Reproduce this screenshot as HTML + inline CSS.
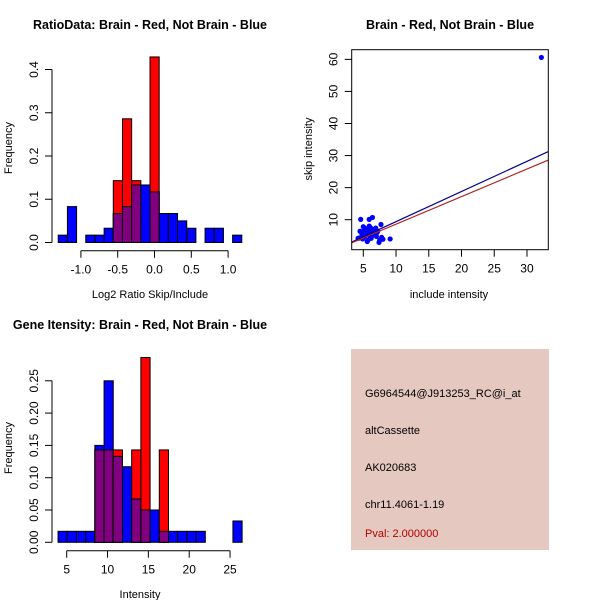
<!DOCTYPE html>
<html><head><meta charset="utf-8"><style>
html,body{margin:0;padding:0;background:#fff;}
svg{display:block;font-family:"Liberation Sans",Arial,sans-serif;}
</style></head><body>
<svg id="chart" width="600" height="600" viewBox="0 0 600 600" xmlns="http://www.w3.org/2000/svg"></svg>
<script>
// ---- Ratio histogram data ----
const ratioBinStart = -1.308;
const ratioBinWidth = 0.1247;
const ratioBlue = [0.017,0.083,0,0.017,0.017,0.033,0.067,0.083,0.133,0.133,0.117,0.067,0.067,0.05,0.033,0,0.033,0.033,0,0.017];
const ratioRed  = [0,0,0,0,0,0,0.143,0.286,0.143,0,0.429,0,0,0,0,0,0,0,0,0];
const ratioXTicks = [-1.0,-0.5,0.0,0.5,1.0];
const ratioXTickLabels = ["-1.0","-0.5","0.0","0.5","1.0"];
const ratioYTicks = [0,0.1,0.2,0.3,0.4];
const ratioYTickLabels = ["0.0","0.1","0.2","0.3","0.4"];
// ---- Intensity histogram data ----
const intBinStart = 3.94;
const intBinWidth = 1.127;
const intBlue = [0.017,0.017,0.017,0.017,0.15,0.25,0.133,0.117,0.067,0.05,0.05,0.017,0.017,0.017,0.017,0.017,0,0,0,0.033];
const intRed  = [0,0,0,0,0.143,0.143,0.143,0,0.143,0.286,0,0.143,0,0,0,0,0,0,0,0];
const intXTicks = [5,10,15,20,25];
const intXTickLabels = ["5","10","15","20","25"];
const intYTicks = [0,0.05,0.10,0.15,0.20,0.25];
const intYTickLabels = ["0.00","0.05","0.10","0.15","0.20","0.25"];
// ---- Scatter data ----
const scatX = [4.6,5.9,6.4,7.7,9.1,5.0,4.5,4.2,7.8,7.4,8.0,5.2,5.5,5.8,6.1,6.3,6.6,6.9,7.1,5.3,5.6,6.0,6.5,4.8,5.1,5.7,6.2,6.8,7.2,4.9,5.4,6.0,6.7,5.6,7.0,5.9,4.4,7.5,32.2];
const scatY = [10.1,10.1,10.7,8.5,4.0,7.8,6.4,4.2,4.5,2.9,3.9,6.8,6.2,7.2,7.5,6.6,7.0,7.4,6.0,5.0,5.4,5.8,5.2,5.5,4.6,3.6,4.2,5.6,6.4,4.0,7.2,4.9,6.9,3.2,4.8,8.0,4.3,3.6,60.6];
const scatXTicks = [5,10,15,20,25,30];
const scatYTicks = [10,20,30,40,50,60];
const fitRed = [0.0, 0.86];   // intercept, slope
const fitBlue = [0.0, 0.94];

const svg = document.getElementById('chart');
const NS = 'http://www.w3.org/2000/svg';
function mk(tag, attrs, parent){
  const e = document.createElementNS(NS, tag);
  for (const k in attrs) e.setAttribute(k, attrs[k]);
  (parent||svg).appendChild(e);
  return e;
}
function txt(s, x, y, opts, parent){
  const e = mk('text', Object.assign({x:x,y:y,'font-size':12,'text-anchor':'middle',fill:'#000'}, opts||{}), parent);
  e.textContent = s;
  return e;
}

function histogram(cfg){
  const g = mk('g', {});
  
  
  const sx = v => cfg.x0 + (v - cfg.xv0) * cfg.xs;
  const sy = v => cfg.y0 - v * cfg.ys;
  for (let i=0;i<cfg.blue.length;i++){
    const a = cfg.start + i*cfg.width, b = a + cfg.width;
    const x1 = sx(a), x2 = sx(b);
    const bv = cfg.blue[i], rv = cfg.red[i];
    if (bv>0){
      const r = mk('rect',{x:x1,y:sy(bv),width:x2-x1,height:sy(0)-sy(bv),fill:'#0000ff',stroke:'#000','stroke-width':1}, g);
      
      
    }
    if (rv>0){
      const r = mk('rect',{x:x1,y:sy(rv),width:x2-x1,height:sy(0)-sy(rv),fill:'#ff0000',stroke:'#000','stroke-width':1}, g);
      
      
    }
    if (bv>0 && rv>0){
      const m = Math.min(bv,rv);
      const r = mk('rect',{x:x1,y:sy(m),width:x2-x1,height:sy(0)-sy(m),fill:'#800080',stroke:'#000','stroke-width':1}, g);
      
      
    }
  }
  // y axis
  const ya = mk('g',{}, g);
  
  
  const yt = cfg.yTicks;
  mk('line',{x1:cfg.yAxisX,x2:cfg.yAxisX,y1:sy(yt[0]),y2:sy(yt[yt.length-1]),stroke:'#000'}, ya);
  yt.forEach((t,i)=>{
    mk('line',{x1:cfg.yAxisX-7,x2:cfg.yAxisX,y1:sy(t),y2:sy(t),stroke:'#000'}, ya);
    txt(cfg.yLabels[i], cfg.yAxisX-18, sy(t)+4, {transform:`rotate(-90 ${cfg.yAxisX-18} ${sy(t)})`}, ya);
  });
  // x axis
  const xa = mk('g',{}, g);
  
  
  const xt = cfg.xTicks;
  mk('line',{x1:sx(xt[0]),x2:sx(xt[xt.length-1]),y1:cfg.xAxisY,y2:cfg.xAxisY,stroke:'#000'}, xa);
  xt.forEach((t,i)=>{
    mk('line',{x1:sx(t),x2:sx(t),y1:cfg.xAxisY,y2:cfg.xAxisY+7,stroke:'#000'}, xa);
    txt(cfg.xLabels[i], sx(t), cfg.xAxisY+23, {}, xa);
  });
  const tt = txt(cfg.title, cfg.titleX, cfg.titleY, {'font-weight':'bold','font-size':12.5}, g);
  
  
  const xl = txt(cfg.xTitle, cfg.titleX, cfg.xTitleY, {'font-size':11}, g);
  
  
  const yl = txt('Frequency', 12, cfg.yTitleY, {'font-size':11, transform:`rotate(-90 12 ${cfg.yTitleY})`}, g);
  
  
}

histogram({name:'ratio-histogram', blue:ratioBlue, red:ratioRed, start:ratioBinStart, width:ratioBinWidth,
  x0:154.5, xv0:0, xs:73.6, y0:242.5, ys:432.5,
  yAxisX:52, xAxisY:250.7, yTicks:ratioYTicks, yLabels:ratioYTickLabels, xTicks:ratioXTicks, xLabels:ratioXTickLabels,
  title:'RatioData: Brain - Red, Not Brain - Blue', titleX:150, titleY:29, xTitle:'Log2 Ratio Skip/Include', xTitleY:298, yTitleY:148});

histogram({name:'intensity-histogram', blue:intBlue, red:intRed, start:intBinStart, width:intBinWidth,
  x0:66.7, xv0:5, xs:8.167, y0:542.3, ys:646,
  yAxisX:52, xAxisY:550.7, yTicks:intYTicks, yLabels:intYTickLabels, xTicks:intXTicks, xLabels:intXTickLabels,
  title:'Gene Itensity: Brain - Red, Not Brain - Blue', titleX:140, titleY:329, xTitle:'Intensity', xTitleY:598, yTitleY:448});

// ---- Scatter ----
(function(){
  const g = mk('g',{});
  
  
  const L=351.7,R=548.3,T=49.7,B=249.7;
  const sx = v => 363.3 + (v-5)*6.547;
  const sy = v => 219.7 - (v-10)*3.207;
  const xMin = (L-363.3)/6.547+5, xMax=(R-363.3)/6.547+5;
  const clip = mk('clipPath',{id:'sc'}, g);
  mk('rect',{x:L,y:T,width:R-L,height:B-T}, clip);
  const pts = mk('g',{'clip-path':'url(#sc)'}, g);
  for (let i=0;i<scatX.length;i++){
    const c = mk('circle',{cx:sx(scatX[i]),cy:sy(scatY[i]),r:2.6,fill:'#0000ff'}, pts);
    
    
  }
  const lb = mk('line',{x1:sx(xMin),y1:sy(fitBlue[0]+fitBlue[1]*xMin),x2:sx(xMax),y2:sy(fitBlue[0]+fitBlue[1]*xMax),stroke:'#00008b','stroke-width':1.2}, pts);
  
  
  const lr = mk('line',{x1:sx(xMin),y1:sy(fitRed[0]+fitRed[1]*xMin),x2:sx(xMax),y2:sy(fitRed[0]+fitRed[1]*xMax),stroke:'#b22222','stroke-width':1.2}, pts);
  
  
  const box = mk('rect',{x:L,y:T,width:R-L,height:B-T,fill:'none',stroke:'#000'}, g);
  
  
  scatXTicks.forEach(t=>{
    mk('line',{x1:sx(t),x2:sx(t),y1:B,y2:B+7,stroke:'#000'}, g);
    txt(String(t), sx(t), B+23, {}, g);
  });
  scatYTicks.forEach(t=>{
    mk('line',{x1:L-7,x2:L,y1:sy(t),y2:sy(t),stroke:'#000'}, g);
    txt(String(t), L-18, sy(t)+4, {transform:`rotate(-90 ${L-18} ${sy(t)})`}, g);
  });
  const tt = txt('Brain - Red, Not Brain - Blue', 450, 29, {'font-weight':'bold','font-size':12.5}, g);
  
  
  const xl = txt('include intensity', 449, 298, {'font-size':11}, g);
  
  
  const yl = txt('skip intensity', 312, 149, {'font-size':11, transform:'rotate(-90 312 149)'}, g);
  
  
})();
</script>
<svg style="position:absolute;left:0;top:0" width="600" height="600">
  <rect x="351" y="349" width="198" height="201" fill="#e5c9c1"/>
  <g font-family="Liberation Sans, Arial, sans-serif" font-size="11" fill="#000">
    <text x="365" y="397">G6964544@J913253_RC@i_at</text>
    <text x="365" y="434">altCassette</text>
    <text x="365" y="471">AK020683</text>
    <text x="365" y="508">chr11.4061-1.19</text>
    <text x="365" y="537" fill="#b00000">Pval: 2.000000</text>
  </g>
</svg>
</body></html>
